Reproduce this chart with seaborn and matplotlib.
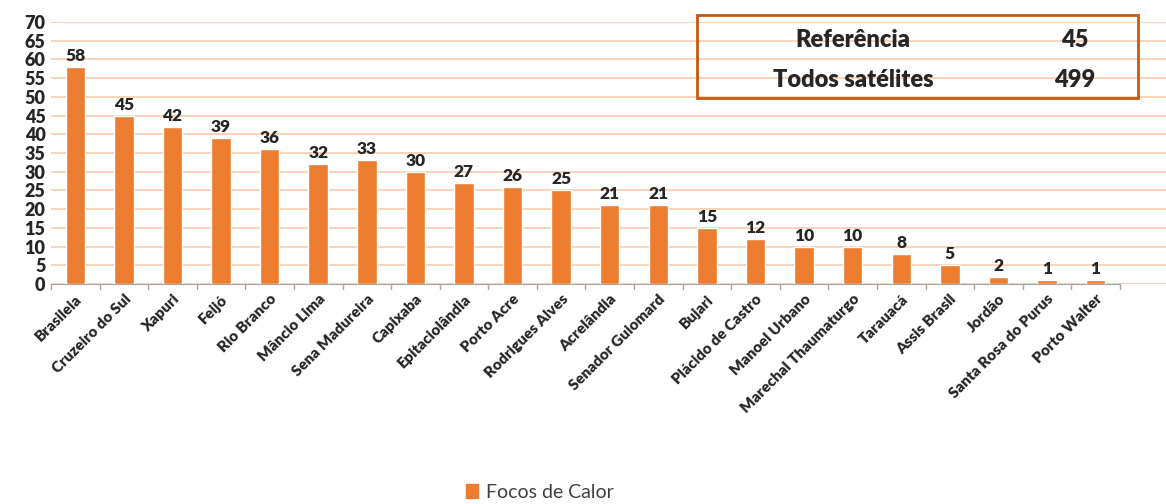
import pandas as pd
import matplotlib
matplotlib.use('Agg')
import matplotlib.pyplot as plt
import seaborn as sns
from matplotlib.patches import Rectangle

municipios = ['Brasileia', 'Cruzeiro do Sul', 'Xapuri', 'Feijó', 'Rio Branco', 'Mâncio Lima',
              'Sena Madureira', 'Capixaba', 'Epitaciolândia', 'Porto Acre', 'Rodrigues Alves',
              'Acrelândia', 'Senador Guiomard', 'Bujari', 'Plácido de Castro', 'Manoel Urbano',
              'Marechal Thaumaturgo', 'Tarauacá', 'Assis Brasil', 'Jordão', 'Santa Rosa do Purus',
              'Porto Walter']
focos = [58, 45, 42, 39, 36, 32, 33, 30, 27, 26, 25, 21, 21, 15, 12, 10, 10, 8, 5, 2, 1, 1]

resumo_labels = ['Referência', 'Todos satélites']
resumo_values = [45, 499]

df = pd.DataFrame({'Município': municipios, 'Focos de Calor': focos})

sns.set_style('white')
plt.rcParams['font.family'] = ['Lato', 'DejaVu Sans']

fig = plt.figure(figsize=(11.66, 5.04), dpi=100)
ax = fig.add_axes([51 / 1166, 1 - 284 / 504, 1 - 51 / 1166, (284 - 22) / 504])

orange = '#ED7D31'
sns.barplot(data=df, x='Município', y='Focos de Calor', color=orange, saturation=1,
            width=0.4, ax=ax, zorder=3)

ax.set_ylim(0, 70)
ax.set_xlim(-0.5, len(municipios) - 0.5 + 0.95)
ax.set_yticks(range(0, 71, 5))
ax.yaxis.grid(True, color='#F8CBAD', linewidth=1.2, zorder=0)
ax.set_axisbelow(True)
for s in ['top', 'right', 'left']:
    ax.spines[s].set_visible(False)
ax.spines['bottom'].set_color('#A6A6A6')
ax.spines['bottom'].set_bounds(-0.5, len(municipios) - 0.5)
ax.set_xlabel('')
ax.set_ylabel('')

ax.set_xticks([i for i in range(len(municipios))])
ax.set_xticklabels(municipios, rotation=45, ha='right', rotation_mode='anchor',
                   fontsize=11, fontweight='heavy')
ax.tick_params(axis='x', length=0, pad=6)
ax.tick_params(axis='y', length=0, pad=4, labelsize=13)
for t in ax.get_yticklabels():
    t.set_fontweight('heavy')

# separator ticks between categories
for i in range(len(municipios) + 1):
    ax.plot([i - 0.5, i - 0.5], [0, -1.4], color='#A6A6A6', lw=1, clip_on=False)

for i, v in enumerate(focos):
    ax.text(i, v + 0.8, str(v), ha='center', va='bottom', fontsize=12.5, fontweight='heavy')

# summary box
fig.patches.append(Rectangle((697 / 1166, 1 - 98 / 504), (1138 - 697) / 1166, 83 / 504,
                             transform=fig.transFigure, fill=False, edgecolor='#C55A11',
                             linewidth=2))
for j, (lab, val) in enumerate(zip(resumo_labels, resumo_values)):
    y = 1 - (40 + j * 40) / 504
    fig.text(853 / 1166, y, lab, ha='center', va='center', fontsize=17, fontweight='heavy')
    fig.text(1075 / 1166, y, str(val), ha='center', va='center', fontsize=17, fontweight='heavy')

leg = fig.legend(handles=[Rectangle((0, 0), 1, 1, color=orange)], labels=['Focos de Calor'],
                 loc='center', bbox_to_anchor=(540 / 1166, 1 - 492 / 504), frameon=False,
                 fontsize=14, handlelength=0.6, handleheight=0.7, handletextpad=0.4)
for t in leg.get_texts():
    t.set_color('#404040')

fig.savefig('out.png', dpi=100)
